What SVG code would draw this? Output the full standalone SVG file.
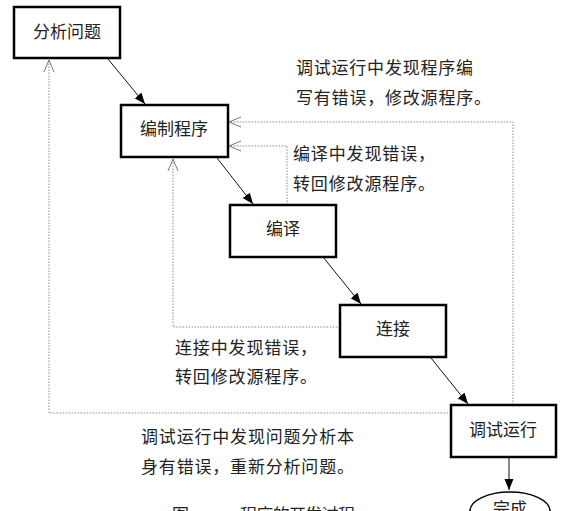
<svg xmlns="http://www.w3.org/2000/svg" width="574" height="511" viewBox="0 0 574 511">
<style>
.box{fill:#fff;stroke:#000;stroke-width:2.5}
.lbl{font-family:"Liberation Serif","Noto Sans CJK SC",serif;font-size:17px;fill:#222}
.ctr{text-anchor:middle;dominant-baseline:central}
.flow{stroke:#111;stroke-width:1;fill:none}
.back{stroke:#888;stroke-width:1;fill:none;stroke-dasharray:1.5,1.5}
</style>
<defs>
<marker id="solid" markerUnits="userSpaceOnUse" markerWidth="12" markerHeight="10" refX="11" refY="4.5" orient="auto">
<path d="M0,0 L11,4.5 L0,9 z" fill="#000"/>
</marker>
<marker id="open" markerUnits="userSpaceOnUse" markerWidth="14" markerHeight="14" refX="12" refY="6" orient="auto">
<path d="M0,1 L12,6 L0,11" fill="none" stroke="#777" stroke-width="1"/>
</marker>
</defs>
<rect width="574" height="511" fill="#fff"/>
<g id="connectors">
<line class="flow" x1="108" y1="59" x2="145" y2="104" marker-end="url(#solid)"/>
<line class="flow" x1="217" y1="158" x2="253" y2="204" marker-end="url(#solid)"/>
<line class="flow" x1="323" y1="257" x2="361" y2="304" marker-end="url(#solid)"/>
<line class="flow" x1="431" y1="358" x2="468" y2="404" marker-end="url(#solid)"/>
<line class="flow" x1="509" y1="458" x2="509" y2="490" stroke="#555" marker-end="url(#solid)"/>
<polyline class="back" points="513,405 513,122 229,122" marker-end="url(#open)"/>
<polyline class="back" points="287,205 287,146 229,146" marker-end="url(#open)"/>
<polyline class="back" points="340,327 173,327 173,159" marker-end="url(#open)"/>
<polyline class="back" points="451,413 49,413 49,60" marker-end="url(#open)"/>
</g>
<g id="n1"><rect class="box" x="14" y="7" width="106" height="51"/><text class="lbl ctr" x="67" y="32">分析问题</text></g>
<g id="n2"><rect class="box" x="121" y="105" width="107" height="52"/><text class="lbl ctr" x="174" y="129">编制程序</text></g>
<g id="n3"><rect class="box" x="230" y="205" width="106" height="52"/><text class="lbl ctr" x="283" y="229">编译</text></g>
<g id="n4"><rect class="box" x="340" y="305" width="106" height="52"/><text class="lbl ctr" x="393" y="329">连接</text></g>
<g id="n5"><rect class="box" x="451" y="405" width="105" height="52"/><text class="lbl ctr" x="503" y="430">调试运行</text></g>
<g id="n6"><ellipse cx="510" cy="511" rx="40" ry="19" fill="#fff" stroke="#000" stroke-width="1.5"/><text class="lbl" x="510" y="515" text-anchor="middle">完成</text></g>
<g id="labels">
<text class="lbl" x="296" y="74" textLength="177">调试运行中发现程序编</text>
<text class="lbl" x="296" y="104" textLength="195">写有错误，修改源程序。</text>
<text class="lbl" x="293" y="160" textLength="142">编译中发现错误，</text>
<text class="lbl" x="293" y="190" textLength="142">转回修改源程序。</text>
<text class="lbl" x="175" y="354" textLength="142">连接中发现错误，</text>
<text class="lbl" x="175" y="383" textLength="142">转回修改源程序。</text>
<text class="lbl" x="141" y="443" textLength="213">调试运行中发现问题分析本</text>
<text class="lbl" x="141" y="473" textLength="213">身有错误，重新分析问题。</text>
<text class="lbl" x="172" y="521">图</text>
<text class="lbl" x="240" y="521" textLength="115">程序的开发过程</text>
</g>
</svg>
